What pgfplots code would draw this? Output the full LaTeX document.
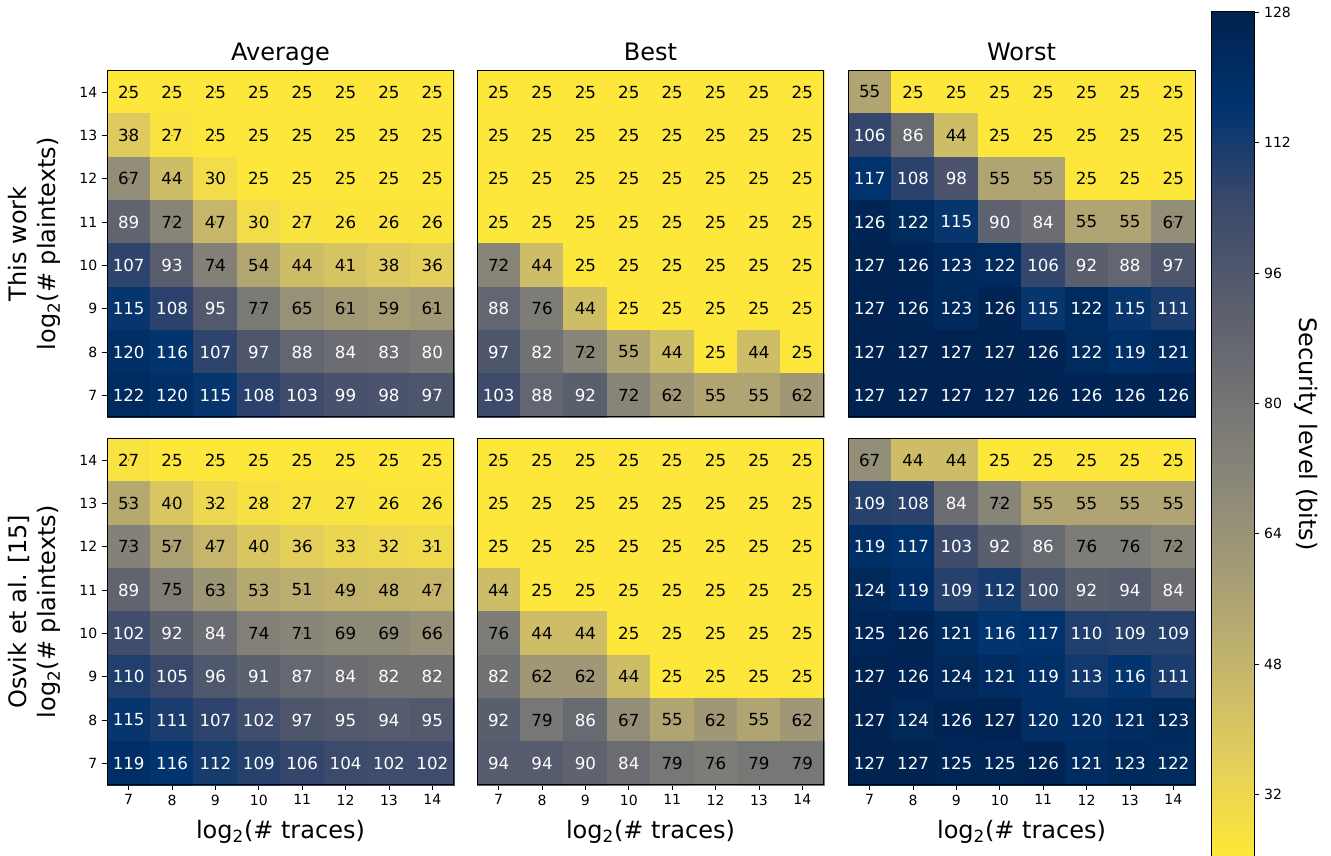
\documentclass[border=0pt]{standalone}
\usepackage{fontspec}
\setmainfont{DejaVu Sans}
\usepackage{pgfplots}
\pgfplotsset{compat=1.18}
\usepackage{pgfplotstable}

% ---------------- data (rows: log2 #plaintexts, columns: log2 #traces) -------------
\pgfplotstableread{
y  c7  c8  c9  c10 c11 c12 c13 c14
14 25  25  25  25  25  25  25  25
13 38  27  25  25  25  25  25  25
12 67  44  30  25  25  25  25  25
11 89  72  47  30  27  26  26  26
10 107 93  74  54  44  41  38  36
9  115 108 95  77  65  61  59  61
8  120 116 107 97  88  84  83  80
7  122 120 115 108 103 99  98  97
}\tAvgA
\pgfplotstableread{
y  c7  c8  c9  c10 c11 c12 c13 c14
14 25  25  25  25  25  25  25  25
13 25  25  25  25  25  25  25  25
12 25  25  25  25  25  25  25  25
11 25  25  25  25  25  25  25  25
10 72  44  25  25  25  25  25  25
9  88  76  44  25  25  25  25  25
8  97  82  72  55  44  25  44  25
7  103 88  92  72  62  55  55  62
}\tBestA
\pgfplotstableread{
y  c7  c8  c9  c10 c11 c12 c13 c14
14 55  25  25  25  25  25  25  25
13 106 86  44  25  25  25  25  25
12 117 108 98  55  55  25  25  25
11 126 122 115 90  84  55  55  67
10 127 126 123 122 106 92  88  97
9  127 126 123 126 115 122 115 111
8  127 127 127 127 126 122 119 121
7  127 127 127 127 126 126 126 126
}\tWorstA
\pgfplotstableread{
y  c7  c8  c9  c10 c11 c12 c13 c14
14 27  25  25  25  25  25  25  25
13 53  40  32  28  27  27  26  26
12 73  57  47  40  36  33  32  31
11 89  75  63  53  51  49  48  47
10 102 92  84  74  71  69  69  66
9  110 105 96  91  87  84  82  82
8  115 111 107 102 97  95  94  95
7  119 116 112 109 106 104 102 102
}\tAvgB
\pgfplotstableread{
y  c7  c8  c9  c10 c11 c12 c13 c14
14 25  25  25  25  25  25  25  25
13 25  25  25  25  25  25  25  25
12 25  25  25  25  25  25  25  25
11 44  25  25  25  25  25  25  25
10 76  44  44  25  25  25  25  25
9  82  62  62  44  25  25  25  25
8  92  79  86  67  55  62  55  62
7  94  94  90  84  79  76  79  79
}\tBestB
\pgfplotstableread{
y  c7  c8  c9  c10 c11 c12 c13 c14
14 67  44  44  25  25  25  25  25
13 109 108 84  72  55  55  55  55
12 119 117 103 92  86  76  76  72
11 124 119 109 112 100 92  94  84
10 125 126 121 116 117 110 109 109
9  127 126 124 121 119 113 116 111
8  127 124 126 127 120 120 121 123
7  127 127 125 125 126 121 123 122
}\tWorstB

\pgfplotsset{
  colormap={civr}{rgb255=(254,232,56) rgb255=(228,207,91) rgb255=(196,181,108)
    rgb255=(166,157,117) rgb255=(138,135,121) rgb255=(112,113,115)
    rgb255=(87,92,109) rgb255=(57,72,107) rgb255=(0,51,111) rgb255=(0,34,78)},
  /pgf/number format/assume math mode=true,
  frame/.style={extra description/.code={%
      \draw[black, line width=0.75pt] (axis description cs:0,0) rectangle (axis description cs:1,1);}},
  hm/.style={
    scale only axis, width=260.25pt, height=260pt,
    xmin=6.5, xmax=14.5, ymin=6.5, ymax=14.5,
    xtick={7,...,14}, ytick={7,...,14},
    tick align=outside, xtick pos=bottom, ytick pos=left,
    major tick length=3.75pt,
    tick style={black, line width=0.6pt},
    axis line style={line width=0.75pt},
    colormap name=civr, point meta min=24.5, point meta max=128,
    tick label style={font=\fontsize{10.5}{12}\selectfont},
    every axis title shift=0pt,
    title style={at={(axis description cs:0.5,1.029)}, anchor=base,
                 font=\fontsize{18}{21.6}\selectfont},
    xlabel style={at={(axis description cs:0.5,-0.153)}, anchor=base,
                  font=\fontsize{18}{21.6}\selectfont},
    ylabel style={at={(axis description cs:-0.121,0.5)}, anchor=south, align=center,
                  font=\fontsize{18}{21.6}\selectfont},
    axis on top, frame,
  },
  cell/.style={
    scatter, only marks, mark=square*, mark size=16.27pt,
    point meta=explicit,
    scatter/use mapped color={draw=mapped color, fill=mapped color, line width=0.4pt},
  },
  lab/.style={
    only marks, mark=*, mark size=0.1pt, mark options={draw=none, fill=none},
    point meta=explicit,
    nodes near coords={\pgfmathfloattoint{\pgfplotspointmeta}\let\cv\pgfmathresult\ifnum\cv>79 \color{white}\fi\cv},
    nodes near coords style={anchor=center, text=black, font=\fontsize{12.5}{15}\selectfont},
  },
}

\newcommand{\heat}[1]{%
  \pgfplotsinvokeforeach{7,...,14}{%
    \addplot[cell] table[x expr=##1, y=y, meta=c##1]{#1};
  }%
  \pgfplotsinvokeforeach{7,...,14}{%
    \addplot[lab] table[x expr=##1, y=y, meta=c##1]{#1};
  }%
}

\begin{document}
\begin{tikzpicture}
% ---- top row: This work ----
\begin{axis}[hm, at={(80.25pt,329.25pt)}, anchor=south west,
  xtick=\empty, title={Average},
  ylabel={This work\\log\textsubscript{2}(\# plaintexts)}]
\heat{\tAvgA}
\end{axis}
\begin{axis}[hm, at={(357.75pt,329.25pt)}, anchor=south west,
  xtick=\empty, ytick=\empty, title={Best}]
\heat{\tBestA}
\end{axis}
\begin{axis}[hm, at={(636pt,329.25pt)}, anchor=south west,
  xtick=\empty, ytick=\empty, title={Worst},
  colorbar, colorbar/width=32.25pt,
  colorbar style={
    at={(parent axis.north east)}, anchor=north west,
    xshift=3.75pt, yshift=43.75pt,
    height=633pt, scale only axis,
    ytick={32,48,...,128}, ytick pos=right, yticklabel pos=right,
    tick align=outside, major tick length=3.75pt,
    tick style={black, line width=0.6pt},
    axis line style={line width=0.75pt},
    yticklabel style={font=\fontsize{10.5}{12}\selectfont},
    ylabel={Security level (bits)},
    ylabel style={rotate=180, at={(axis description cs:2.05,0.5)}, anchor=base,
                  font=\fontsize{18}{21.6}\selectfont},
    frame,
  }]
\heat{\tWorstA}
\end{axis}
% ---- bottom row: Osvik et al. ----
\begin{axis}[hm, at={(80.25pt,53.25pt)}, anchor=south west,
  xlabel={log\textsubscript{2}(\# traces)},
  ylabel={Osvik et al. [15]\\log\textsubscript{2}(\# plaintexts)}]
\heat{\tAvgB}
\end{axis}
\begin{axis}[hm, at={(357.75pt,53.25pt)}, anchor=south west,
  ytick=\empty, xlabel={log\textsubscript{2}(\# traces)}]
\heat{\tBestB}
\end{axis}
\begin{axis}[hm, at={(636pt,53.25pt)}, anchor=south west,
  ytick=\empty, xlabel={log\textsubscript{2}(\# traces)}]
\heat{\tWorstB}
\end{axis}
\pgfresetboundingbox
\useasboundingbox (0,0) rectangle (998.25pt,642pt);
\end{tikzpicture}
\end{document}
